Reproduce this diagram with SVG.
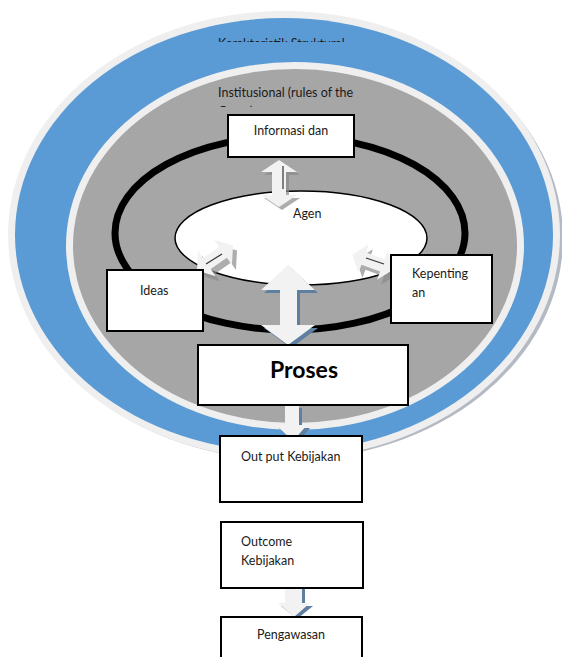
<svg xmlns="http://www.w3.org/2000/svg" width="562" height="657" viewBox="0 0 562 657">
<style>
.t{font-family:Lato,"Noto Sans",sans-serif;font-size:12.5px;fill:#1a1a1a}
.box{fill:#fff;stroke:#000;stroke-width:2}
.arr{fill:#f2f2f2}
.sh{fill:#8a8a8a;opacity:0.7}
</style>
<defs>
<polygon id="dbl" points="-20,0 -9,-14 -9,-6 9,-6 9,-14 20,0 9,14 9,6 -9,6 -9,14"/>
<clipPath id="c1"><rect x="0" y="0" width="562" height="42"/></clipPath>
<clipPath id="c2"><rect x="0" y="0" width="562" height="107"/></clipPath>
</defs>
<rect width="562" height="657" fill="#fff"/>
<g id="outer">
<ellipse cx="287" cy="238" rx="276" ry="222" fill="#b4bac4"/>
<ellipse cx="284" cy="235" rx="276" ry="224" fill="#efefef"/>
<ellipse cx="284" cy="235" rx="269" ry="217" fill="#5b9bd5"/>
<text class="t" x="218" y="48" clip-path="url(#c1)">Karakteristik Struktural</text>
</g>
<g id="institusional">
<ellipse cx="295" cy="246" rx="229" ry="184" fill="#efefef"/>
<ellipse cx="295" cy="246" rx="222" ry="177" fill="#a6a6a6"/>
<text class="t" x="218" y="97">Institusional (rules of the</text>
<text class="t" x="218" y="116" clip-path="url(#c2)">Game)</text>
</g>
<g id="ring">
<ellipse cx="290" cy="233" rx="175" ry="97" fill="none" stroke="#000" stroke-width="7"/>
</g>
<g id="agen">
<ellipse cx="301" cy="238" rx="126" ry="47" fill="#fff" stroke="#000" stroke-width="1.5"/>
<text class="t" x="293" y="218">Agen</text>
</g>
<g id="connectors">
<polygon class="sh" points="282,163 300,175 289,175 289,198 300,198 282,210 264,198 275,198 275,175 264,175"/>
<polygon class="arr" points="279,160 297,172 286,172 286,195 297,195 279,207 261,195 272,195 272,172 261,172"/>
<line x1="283" y1="166" x2="283" y2="189" stroke="#333" stroke-width="1.2"/>
<use href="#dbl" class="sh" transform="translate(219,263) rotate(-35) scale(1.1)"/>
<use href="#dbl" class="arr" transform="translate(215,258) rotate(-35) scale(1.1)"/>
<line x1="206" y1="264" x2="222" y2="254" stroke="#333" stroke-width="1.2"/>
<use href="#dbl" class="sh" transform="translate(377,267) rotate(20) scale(1.1)"/>
<use href="#dbl" class="arr" transform="translate(373,262) rotate(20) scale(1.1)"/>
<line x1="366" y1="258" x2="384" y2="264" stroke="#333" stroke-width="1.2"/>
<polygon fill="#5f7fa0" points="291,268 318,293 300,293 300,328 318,328 291,348 264,328 283,328 283,293 264,293"/>
<polygon class="arr" points="288,265 315,290 297,290 297,325 315,325 288,345 261,325 280,325 280,290 261,290"/>
<polygon fill="#5f7fa0" points="288,408 302,408 302,428 310,428 296,444 279,428 288,428"/>
<polygon class="arr" points="285,405 299,405 299,425 307,425 293,441 276,425 285,425"/>
<polygon fill="#5f7fa0" points="288,589 305,589 305,606 313,606 297,619 281,606 288,606"/>
<polygon class="arr" points="285,588 302,588 302,603 310,603 294,617 278,603 285,603"/>
</g>
<g id="informasi">
<rect class="box" x="228" y="115" width="126" height="42"/>
<text class="t" x="291" y="135" text-anchor="middle">Informasi dan</text>
</g>
<g id="ideas">
<rect class="box" x="107" y="270" width="96" height="61"/>
<text class="t" x="140" y="295">Ideas</text>
</g>
<g id="kepentingan">
<rect class="box" x="391" y="255" width="101" height="68"/>
<text class="t" x="412" y="278">Kepenting</text>
<text class="t" x="412" y="297">an</text>
</g>
<g id="proses">
<rect class="box" x="198" y="345" width="210" height="60"/>
<text x="304" y="378" text-anchor="middle" font-family="Lato,'Noto Sans',sans-serif" font-weight="bold" font-size="23" fill="#000">Proses</text>
</g>
<g id="output">
<rect class="box" x="220" y="436" width="142" height="66"/>
<text class="t" x="241" y="461">Out put Kebijakan</text>
</g>
<g id="outcome">
<rect class="box" x="221" y="522" width="142" height="66"/>
<text class="t" x="241" y="546">Outcome</text>
<text class="t" x="241" y="565">Kebijakan</text>
</g>
<g id="pengawasan">
<rect class="box" x="221" y="617" width="141" height="45"/>
<text class="t" x="257" y="639">Pengawasan</text>
</g>
</svg>
